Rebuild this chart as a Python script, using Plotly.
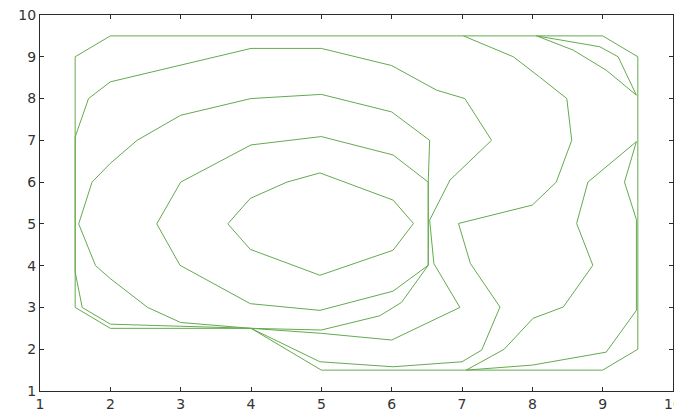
import plotly.graph_objects as go

# contour paths (x, y)
outer_x = [1.5, 2.0, 9.0, 9.5, 9.5, 9.0, 5.0, 4.0, 2.0, 1.5, 1.5]
outer_y = [9.0, 9.5, 9.5, 9.0, 2.0, 1.5, 1.5, 2.5, 2.5, 3.0, 9.0]

line_b_x = [1.5, 1.5, 1.6, 2.0, 3.0, 4.0, 5.0, 6.0, 6.97, 6.6, 6.54, 6.83, 7.42, 7.04, 6.64, 6.0, 5.0, 4.0, 2.0, 1.69, 1.5]
line_b_y = [7.08, 3.85, 3.0, 2.6, 2.55, 2.5, 2.38, 2.22, 3.0, 4.05, 5.09, 6.05, 7.0, 8.0, 8.2, 8.79, 9.2, 9.2, 8.4, 8.0, 7.08]

line_c_x = [1.55, 1.74, 2.0, 2.38, 3.0, 4.0, 5.0, 6.0, 6.54, 6.52, 6.52, 6.14, 5.83, 5.0, 4.0, 3.0, 2.53, 2.0, 1.79, 1.55]
line_c_y = [5.0, 6.0, 6.45, 7.0, 7.6, 8.0, 8.1, 7.68, 7.0, 6.0, 4.01, 3.12, 2.8, 2.46, 2.5, 2.64, 3.0, 3.69, 4.0, 5.0]

line_d_x = [2.66, 3.0, 4.0, 5.0, 6.02, 6.52, 6.52, 6.02, 4.98, 3.99, 2.99, 2.66]
line_d_y = [5.0, 6.0, 6.89, 7.09, 6.65, 6.0, 4.01, 3.39, 2.93, 3.09, 4.01, 5.0]

line_e_x = [3.67, 3.99, 4.51, 4.98, 6.02, 6.31, 6.02, 4.98, 3.99, 3.67]
line_e_y = [5.0, 5.61, 6.0, 6.22, 5.57, 5.01, 4.37, 3.77, 4.39, 5.0]

line_f_x = [4.0, 4.98, 6.02, 7.0, 7.28, 7.54, 7.12, 6.95, 8.0, 8.34, 8.56, 8.49, 8.1, 7.73, 7.02]
line_f_y = [2.5, 1.7, 1.58, 1.7, 1.98, 3.01, 4.05, 5.01, 5.45, 6.0, 7.0, 8.0, 8.52, 9.0, 9.5]

line_g1_x = [8.06, 8.96, 9.22, 9.48]
line_g1_y = [9.5, 9.24, 9.0, 8.08]

line_g2_x = [8.06, 8.58, 9.05, 9.48]
line_g2_y = [9.5, 9.16, 8.68, 8.08]

line_h_x = [7.06, 8.0, 9.05, 9.48, 9.48, 9.31, 9.48, 8.79, 8.63, 8.86, 8.44, 8.01, 7.6, 7.06]
line_h_y = [1.5, 1.62, 1.93, 2.93, 5.1, 6.0, 6.97, 6.0, 5.01, 4.01, 3.01, 2.74, 2.0, 1.5]

paths = [
    (outer_x, outer_y), (line_b_x, line_b_y), (line_c_x, line_c_y),
    (line_d_x, line_d_y), (line_e_x, line_e_y), (line_f_x, line_f_y),
    (line_g1_x, line_g1_y), (line_g2_x, line_g2_y), (line_h_x, line_h_y),
]

line_color = "rgb(100,170,78)"

fig = go.Figure()
for xs, ys in paths:
    fig.add_trace(go.Scatter(x=xs, y=ys, mode="lines", line=dict(color=line_color, width=1), showlegend=False, hoverinfo="skip"))

axis_style = dict(
    range=[1, 10], dtick=1, showgrid=False, zeroline=False,
    showline=True, linecolor="#2b2b2b", linewidth=1, mirror="ticks",
    ticks="inside", ticklen=4, tickcolor="#2b2b2b",
    automargin=False, ticklabeloverflow="allow",
    tickfont=dict(family="DejaVu Sans, sans-serif", size=14, color="#333333"),
)
fig.update_xaxes(**axis_style)
fig.update_yaxes(**axis_style)
# the page body has an 8px margin, so the figure is sized/margined to land where the reference axes are
fig.update_layout(
    width=674, height=406,
    margin=dict(l=32, r=9, t=7, b=23),
    plot_bgcolor="white", paper_bgcolor="white",
)
fig.write_html("out.html")
